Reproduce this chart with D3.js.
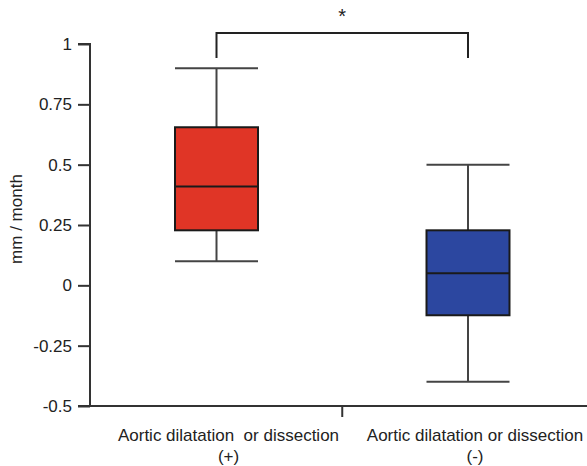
<!DOCTYPE html>
<html><head><meta charset="utf-8">
<script src="https://cdn.jsdelivr.net/npm/d3@7"></script>
<style>body{margin:0;background:#fff}svg{display:block}text{font-family:Arial,"Liberation Sans",sans-serif;fill:#222;white-space:pre}</style>
</head><body><svg id="c" width="587" height="466"></svg>
<script>
const categories = ["Aortic dilatation  or dissection|(+)", "Aortic dilatation or dissection|(-)"];
const whiskerLow = [0.1, -0.4];
const q1 = [0.228, -0.124];
const median = [0.41, 0.05];
const q3 = [0.655, 0.228];
const whiskerHigh = [0.9, 0.5];
const colors = ["#e03526", "#2c47a0"];
const yTicks = [-0.5, -0.25, 0, 0.25, 0.5, 0.75, 1];
const yTickLabels = ["-0.5", "-0.25", "0", "0.25", "0.5", "0.75", "1"];
const yLabel = "mm / month";
const sigLabel = "*";

const svg = d3.select("#c");
const y = d3.scaleLinear().domain([-0.5, 1]).range([406, 44]);
const x = d3.scaleBand().domain(categories).range([90, 594.5]).paddingInner(0.67).paddingOuter(0.338);
const bw = x.bandwidth();

// y axis
const yAxis = d3.axisLeft(y).tickValues(yTicks).tickFormat((d,i)=>yTickLabels[i]).tickSize(12).tickPadding(6);
const gy = svg.append("g").attr("transform","translate(90,0)").call(yAxis);
gy.select(".domain").attr("stroke","#333").attr("stroke-width",2).attr("d","M-12,44H0V406H-12");
gy.selectAll(".tick line").attr("stroke","#333").attr("stroke-width",2);
gy.selectAll(".tick text").style("font-size","17px").attr("fill","#222");

// x axis
svg.append("line").attr("x1",90).attr("x2",594).attr("y1",y(-0.5)).attr("y2",y(-0.5)).attr("stroke","#333").attr("stroke-width",2);
const midX = (x(categories[0]) + bw/2 + x(categories[1]) + bw/2)/2;
svg.append("line").attr("x1",midX).attr("x2",midX).attr("y1",y(-0.5)).attr("y2",y(-0.5)+11).attr("stroke","#333").attr("stroke-width",2);

// x labels
categories.forEach((c,i)=>{
  const parts = c.split("|");
  const cx = x(c)+bw/2 + (i===0?12:7);
  const t = svg.append("text").attr("text-anchor","middle").style("font-size","17px");
  t.append("tspan").attr("x",cx).attr("y",441).text(parts[0]);
  t.append("tspan").attr("x",cx).attr("y",462).text(parts[1]);
});

// y label
svg.append("text").attr("transform","translate(22,219) rotate(-90)").attr("text-anchor","middle").style("font-size","17px").text(yLabel);

// boxes
categories.forEach((c,i)=>{
  const x0 = x(c), cx = x0+bw/2;
  const g = svg.append("g");
  g.append("line").attr("x1",cx).attr("x2",cx).attr("y1",y(whiskerHigh[i])).attr("y2",y(whiskerLow[i])).attr("stroke","#444").attr("stroke-width",2);
  [whiskerHigh[i], whiskerLow[i]].forEach(v=>{
    g.append("line").attr("x1",x0).attr("x2",x0+bw).attr("y1",y(v)).attr("y2",y(v)).attr("stroke","#444").attr("stroke-width",2);
  });
  g.append("rect").attr("x",x0).attr("width",bw).attr("y",y(q3[i])).attr("height",y(q1[i])-y(q3[i])).attr("fill",colors[i]).attr("stroke","#1a1a1a").attr("stroke-width",2);
  g.append("line").attr("x1",x0).attr("x2",x0+bw).attr("y1",y(median[i])).attr("y2",y(median[i])).attr("stroke","#1a1a1a").attr("stroke-width",2);
});

// significance bracket
const c1 = x(categories[0])+bw/2, c2 = x(categories[1])+bw/2;
svg.append("path").attr("d",`M${c1},58V33H${c2}V58`).attr("fill","none").attr("stroke","#222").attr("stroke-width",2);
svg.append("text").attr("x",(c1+c2)/2).attr("y",23).attr("text-anchor","middle").style("font-size","20px").text(sigLabel);
</script></body></html>
